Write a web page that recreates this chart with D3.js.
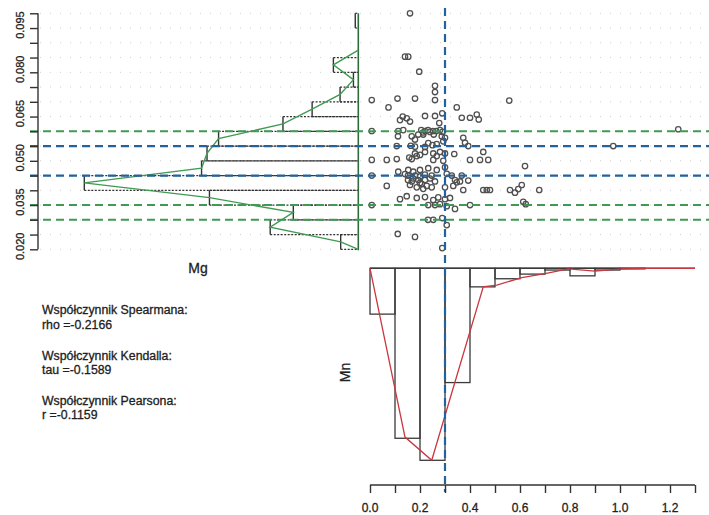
<!DOCTYPE html>
<html>
<head>
<meta charset="utf-8">
<script src="https://cdn.jsdelivr.net/npm/d3@7"></script>
<style>
  html, body { margin: 0; padding: 0; background: #fff; }
  svg { display: block; font-family: "Liberation Sans", Arial, sans-serif; }
  svg text { stroke: #1e1e1e; stroke-width: 0.3px; }
</style>
</head>
<body>
<svg id="chart" width="709" height="515"></svg>
<script>
// Mg histogram (density per 0.005 bin), drawn sideways on the left
const mgBinStart = [0.020, 0.025, 0.030, 0.035, 0.040, 0.045, 0.050, 0.055,
                    0.060, 0.065, 0.070, 0.075, 0.080, 0.085, 0.090, 0.095];
const mgDensity  = [2.9, 14.5, 10.7, 24.5, 45.1, 25.8, 24.9, 23.0,
                    12.4, 7.6, 3.0, 0.8, 4.1, 0, 0, 0.5];
const mgBinWidth = 0.005;

// Mn histogram (density per 0.1 bin), hanging below the scatter
const mnBinStart = [0.0, 0.1, 0.2, 0.3, 0.4, 0.5, 0.6, 0.7, 0.8, 0.9, 1.0, 1.1, 1.2];
const mnDensity  = [0.79, 2.93, 3.31, 1.97, 0.32, 0.18, 0.10, 0.03, 0.13, 0.03, 0.01, 0, 0];
const mnBinWidth = 0.1;

// Mn frequency curve
const mnCurveX = [0, 0.14, 0.247, 0.453, 0.507, 0.607, 0.70, 0.793, 0.90, 1.007, 1.10, 1.30];
const mnCurveY = [0, 2.91, 3.31, 0.32, 0.29, 0.16, 0.09, 0.01, 0.05, 0.01, 0, 0];

// reference levels
const mgGreenLines = [0.060, 0.035, 0.030];
const mgBlueLines  = [0.055, 0.045];
const mnBlueLines  = [0.3];

// axis ticks
const mgTicks  = [0.020, 0.025, 0.030, 0.035, 0.040, 0.045, 0.050, 0.055, 0.060,
                  0.065, 0.070, 0.075, 0.080, 0.085, 0.090, 0.095, 0.100];
const mgLabels = [0.020, 0.035, 0.050, 0.065, 0.080, 0.095];
const mnTicks  = [0.0, 0.1, 0.2, 0.3, 0.4, 0.5, 0.6, 0.7, 0.8, 0.9, 1.0, 1.1, 1.2, 1.3];
const mnLabels = [0.0, 0.2, 0.4, 0.6, 0.8, 1.0, 1.2];

// correlation summary
const statsLines = [
  "Współczynnik Spearmana:", "rho =-0.2166",
  "Współczynnik Kendalla:",  "tau =-0.1589",
  "Współczynnik Pearsona:",  "r =-0.1159"
];

// samples: [Mn, Mg]
const samples = [
[0.160,0.1000],
[0.140,0.0853],[0.153,0.0853],
[0.197,0.0802],
[0.260,0.0754],[0.260,0.0733],[0.260,0.0706],
[0.007,0.0706],[0.110,0.0711],[0.180,0.0711],
[0.074,0.0681],[0.347,0.0681],[0.557,0.0704],
[0.131,0.0650],[0.147,0.0644],[0.160,0.0633],[0.120,0.0638],
[0.220,0.0652],[0.260,0.0652],[0.289,0.0661],
[0.367,0.0646],[0.400,0.0646],[0.427,0.0657],[0.435,0.0640],
[0.277,0.0628],
[0.007,0.0601],[0.113,0.0601],[0.133,0.0604],[0.205,0.0604],[0.220,0.0601],[0.232,0.0604],[0.252,0.0601],[0.265,0.0601],[0.280,0.0604],[0.290,0.0598],[0.240,0.0598],[0.212,0.0596],
[0.112,0.0583],[0.167,0.0583],[0.193,0.0589],[0.213,0.0589],[0.255,0.0589],[0.287,0.0583],[0.300,0.0578],[0.373,0.0578],[0.180,0.0572],
[0.107,0.0550],[0.163,0.0551],[0.180,0.0548],[0.220,0.0547],[0.250,0.0553],[0.267,0.0557],[0.293,0.0566],[0.380,0.0561],[0.393,0.0550],[0.973,0.0550],[0.233,0.0560],
[0.453,0.0530],
[0.180,0.0525],[0.220,0.0530],[0.253,0.0525],[0.280,0.0530],[0.300,0.0525],[0.337,0.0523],[0.200,0.0520],
[0.007,0.0503],[0.067,0.0503],[0.107,0.0506],[0.167,0.0506],[0.187,0.0516],[0.253,0.0503],[0.267,0.0516],[0.293,0.0500],[0.400,0.0503],[0.440,0.0503],[0.473,0.0503],[0.157,0.0511],
[0.620,0.0482],
[0.113,0.0463],[0.153,0.0469],[0.200,0.0469],[0.233,0.0475],[0.267,0.0469],[0.300,0.0478],[0.173,0.0463],
[0.007,0.0450],[0.152,0.0450],[0.180,0.0450],[0.220,0.0453],[0.247,0.0450],[0.307,0.0456],[0.327,0.0450],[0.367,0.0450],[0.393,0.0433],[0.200,0.0447],[0.140,0.0455],
[0.152,0.0435],[0.167,0.0430],[0.193,0.0435],[0.220,0.0435],[0.260,0.0430],[0.340,0.0435],[0.360,0.0430],[0.200,0.0425],[0.240,0.0440],[0.173,0.0440],
[0.067,0.0415],[0.207,0.0421],[0.227,0.0415],[0.247,0.0410],[0.300,0.0410],[0.333,0.0415],[0.347,0.0427],[0.373,0.0401],[0.453,0.0401],[0.467,0.0401],[0.480,0.0401],[0.560,0.0401],[0.580,0.0392],[0.593,0.0404],[0.607,0.0418],[0.677,0.0401],[0.187,0.0410],[0.160,0.0418],[0.213,0.0405],
[0.120,0.0370],[0.187,0.0374],[0.220,0.0377],[0.253,0.0367],[0.273,0.0376],[0.300,0.0370],[0.320,0.0374],[0.147,0.0380],
[0.007,0.0350],[0.260,0.0350],[0.280,0.0353],[0.307,0.0346],[0.340,0.0337],[0.400,0.0350],[0.613,0.0361],[0.623,0.0353],[0.233,0.0350],
[0.253,0.0300],[0.289,0.0306],[0.307,0.0282],[0.232,0.0300],
[0.111,0.0252],[0.180,0.0242],
[0.289,0.0204],
[1.233,0.0607]
];

// ---------- layout ----------
const svg = d3.select("#chart");
const W = 709;
const green = "#3f9a52", blue = "#23629c", red = "#c9373f", ink = "#333";

// shared Mg scale (vertical) and Mn scale (horizontal)
const yMg = d3.scaleLinear().domain([0.020, 0.100]).range([249.3, 13.3]);
const xMn = d3.scaleLinear().domain([0, 1.3]).range([370, 695]);
// density scales for the two histograms
const xMgDen = d3.scaleLinear().domain([0, 45.1]).range([358.3, 84.3]);
const yMnDen = d3.scaleLinear().domain([0, 3.31]).range([268.3, 460.3]);

// faint dotted guides at every Mg tick
svg.append("g").selectAll("line").data(mgTicks).join("line")
  .attr("x1", 40).attr("x2", W)
  .attr("y1", d => yMg(d)).attr("y2", d => yMg(d))
  .attr("stroke", "#cfcfcf").attr("stroke-width", 1)
  .attr("stroke-dasharray", "1,9");

// ---------- Mg histogram ----------
const gMg = svg.append("g");
const mgBins = mgBinStart.map((s, i) => ({ lo: s, hi: s + mgBinWidth, v: mgDensity[i] }));
const mgBars = mgBins.filter(b => b.v > 0);
// horizontal bar edges (dotted)
gMg.selectAll("line.h").data(mgBars.flatMap(b => [{ y: b.lo, v: b.v }, { y: b.hi, v: b.v }]))
  .join("line").attr("class", "h")
  .attr("x1", d => xMgDen(d.v)).attr("x2", xMgDen(0))
  .attr("y1", d => yMg(d.y)).attr("y2", d => yMg(d.y))
  .attr("stroke", ink).attr("stroke-width", 1.2).attr("stroke-dasharray", "2,1.5");
// vertical bar ends
gMg.selectAll("line.v").data(mgBars).join("line").attr("class", "v")
  .attr("x1", d => xMgDen(d.v)).attr("x2", d => xMgDen(d.v))
  .attr("y1", d => yMg(d.lo)).attr("y2", d => yMg(d.hi))
  .attr("stroke", ink).attr("stroke-width", 1.4);
// baseline
gMg.append("line")
  .attr("x1", xMgDen(0)).attr("x2", xMgDen(0))
  .attr("y1", yMg(0.100)).attr("y2", yMg(0.020) + 1)
  .attr("stroke", "#2e6b3c").attr("stroke-width", 1.6);
// frequency polygon through bin midpoints
const mgPoly = [{ y: mgBinStart[0], v: 0 }].concat(
  mgBins.filter(b => b.lo < 0.0899).map(b => ({ y: (b.lo + b.hi) / 2, v: b.v })));
gMg.append("path")
  .attr("d", d3.line().x(d => xMgDen(d.v)).y(d => yMg(d.y))(mgPoly))
  .attr("fill", "none").attr("stroke", green).attr("stroke-width", 1.4);

// ---------- Mn histogram ----------
const gMn = svg.append("g");
gMn.selectAll("rect").data(mnBinStart.map((s, i) => ({ lo: s, hi: s + mnBinWidth, v: mnDensity[i] })).filter(b => b.v > 0))
  .join("rect")
  .attr("x", d => xMn(d.lo)).attr("width", d => xMn(d.hi) - xMn(d.lo))
  .attr("y", yMnDen(0)).attr("height", d => yMnDen(d.v) - yMnDen(0))
  .attr("fill", "none").attr("stroke", "#3a3a3a").attr("stroke-width", 1.3);
gMn.append("line")
  .attr("x1", xMn(0)).attr("x2", xMn(1.3))
  .attr("y1", yMnDen(0)).attr("y2", yMnDen(0))
  .attr("stroke", "#3a3a3a").attr("stroke-width", 1.4);
gMn.append("path")
  .attr("d", d3.line().x(d => xMn(d[0])).y(d => yMnDen(d[1]))(mnCurveX.map((x, i) => [x, mnCurveY[i]])))
  .attr("fill", "none").attr("stroke", red).attr("stroke-width", 1.3);

// ---------- scatter ----------
svg.append("g").selectAll("circle").data(samples).join("circle")
  .attr("cx", d => xMn(d[0])).attr("cy", d => yMg(d[1]))
  .attr("r", 2.7)
  .attr("fill", "none").attr("stroke", "#505050").attr("stroke-width", 1.3);

// ---------- reference lines ----------
const gRef = svg.append("g");
gRef.selectAll("line.g").data(mgGreenLines).join("line").attr("class", "g")
  .attr("x1", 30).attr("x2", W)
  .attr("y1", d => yMg(d)).attr("y2", d => yMg(d))
  .attr("stroke", green).attr("stroke-width", 2).attr("stroke-dasharray", "8,5");
gRef.selectAll("line.b").data(mgBlueLines).join("line").attr("class", "b")
  .attr("x1", 30).attr("x2", W)
  .attr("y1", d => yMg(d)).attr("y2", d => yMg(d))
  .attr("stroke", blue).attr("stroke-width", 2.2).attr("stroke-dasharray", "8,5");
gRef.selectAll("line.v").data(mnBlueLines).join("line").attr("class", "v")
  .attr("x1", d => xMn(d)).attr("x2", d => xMn(d))
  .attr("y1", 8).attr("y2", 492)
  .attr("stroke", blue).attr("stroke-width", 2.2).attr("stroke-dasharray", "8,5");

// ---------- axes ----------
const axMg = d3.axisLeft(yMg).tickValues(mgTicks).tickSize(8).tickFormat("");
const gAxMg = svg.append("g").attr("transform", "translate(38,0)").call(axMg);
gAxMg.select(".domain").attr("d", `M0,${yMg(0.100)}V${yMg(0.020)}`);
gAxMg.selectAll("path, line").attr("stroke", ink).attr("stroke-width", 1.4);
svg.append("g").selectAll("text").data(mgLabels).join("text")
  .attr("transform", d => `translate(23.5,${yMg(d) - 3}) rotate(-90)`)
  .attr("text-anchor", "middle")
  .attr("font-size", 11).attr("fill", "#222")
  .text(d => d3.format(".3f")(d));

const axMn = d3.axisBottom(xMn).tickValues(mnTicks).tickSize(8).tickFormat("");
const gAxMn = svg.append("g").attr("transform", "translate(0,485)").call(axMn);
gAxMn.select(".domain").attr("d", `M${xMn(0)},0H${xMn(1.3)}`);
gAxMn.selectAll("path, line").attr("stroke", ink).attr("stroke-width", 1.4);
svg.append("g").selectAll("text").data(mnLabels).join("text")
  .attr("x", d => xMn(d)).attr("y", 512)
  .attr("text-anchor", "middle")
  .attr("font-size", 12).attr("fill", "#222")
  .text(d => d3.format(".1f")(d));

// axis titles
svg.append("text").attr("x", 198).attr("y", 273)
  .attr("text-anchor", "middle").attr("font-size", 14).attr("fill", "#222").text("Mg");
svg.append("text").attr("transform", "translate(350,372.5) rotate(-90)")
  .attr("text-anchor", "middle").attr("font-size", 14).attr("fill", "#222").text("Mn");

// ---------- correlation text ----------
const statsBaselines = [314.3, 329, 360, 374, 405, 419.3];
svg.append("g").selectAll("text").data(statsLines).join("text")
  .attr("x", 42).attr("y", (d, i) => statsBaselines[i])
  .attr("font-size", 12.3).attr("fill", "#222")
  .text(d => d);
</script>
</body>
</html>
